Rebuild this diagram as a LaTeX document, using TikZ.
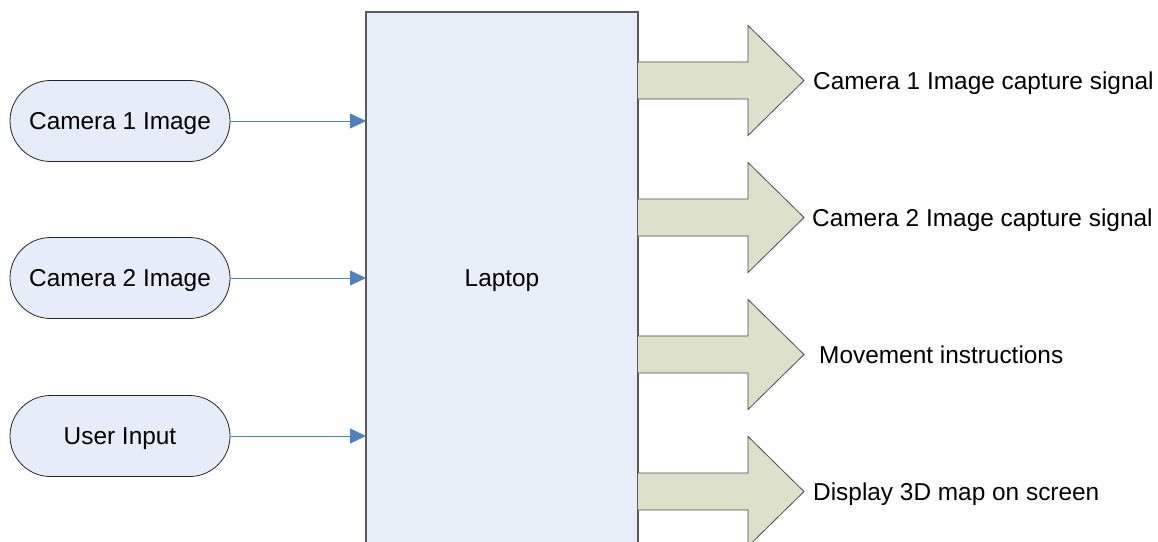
\documentclass[tikz,border=0pt]{standalone}
\usepackage{fontspec}
\setmainfont{Liberation Sans}
\usetikzlibrary{arrows.meta}
\definecolor{nodefill}{RGB}{231,237,248}
\definecolor{laptopfill}{RGB}{232,238,248}
\definecolor{blockfill}{RGB}{221,225,204}
\definecolor{linkblue}{RGB}{79,129,189}
\definecolor{edgegray}{RGB}{90,90,90}
\tikzset{
  x=1pt, y=-1pt,
  every node/.style={font=\fontsize{24.4}{28}\selectfont, text height=17.5pt, text depth=0pt},
  inbox/.style={draw=black!85, fill=nodefill, line width=0.8pt, minimum width=220pt, minimum height=81pt, rounded corners=40.5pt, inner sep=0pt},
  laptopbox/.style={draw=edgegray, fill=laptopfill, line width=1.2pt},
  link/.style={draw=linkblue, line width=0.8pt, -{Triangle[length=16pt,width=15pt]}},
  blockarrow/.style={draw=black!70, fill=blockfill, line width=0.8pt},
  outlabel/.style={anchor=west, inner sep=0pt}
}
\newcommand{\blockarr}[2]{%
  \path[blockarrow, draw=none] (638,#1-18.5) -- (748,#1-18.5) -- (748,#1-55) -- (804,#1) -- (748,#1+55) -- (748,#1+18.5) -- (638,#1+18.5);
  \draw[blockarrow, fill=none] (638,#1-18.5) -- (748,#1-18.5) -- (748,#1-55) -- (804,#1) -- (748,#1+55) -- (748,#1+18.5) -- (638,#1+18.5);
  \coordinate (#2) at (804,#1);
}
\begin{document}
\begin{tikzpicture}
\useasboundingbox (0,0) rectangle (1158,541);
\clip (0,0) rectangle (1158,541);
\fill[white] (0,0) rectangle (1158,541);
% laptop
\path[laptopbox] (366,12) rectangle (638,560);
\node (laptop) at (502,278) {Laptop};
\coordinate (lapW1) at (366,121);
\coordinate (lapW2) at (366,278);
\coordinate (lapW3) at (366,436);
% inputs
\node[inbox] (cam1) at (120,121) {Camera 1 Image};
\node[inbox] (cam2) at (120,278) {Camera 2 Image};
\node[inbox] (user) at (120,436) {User Input};
\draw[link] (cam1.east) -- (lapW1);
\draw[link] (cam2.east) -- (lapW2);
\draw[link] (user.east) -- (lapW3);
% outputs
\blockarr{80.5}{tip1}
\blockarr{217.5}{tip2}
\blockarr{354.5}{tip3}
\blockarr{491.5}{tip4}
\node[outlabel] (out1) at (813,80.5) {Camera 1 Image capture signal};
\node[outlabel] (out2) at (812,217.5) {Camera 2 Image capture signal};
\node[outlabel] (out3) at (819,354.5) {Movement instructions};
\node[outlabel] (out4) at (813,491.5) {Display 3D map on screen};
\end{tikzpicture}
\end{document}
